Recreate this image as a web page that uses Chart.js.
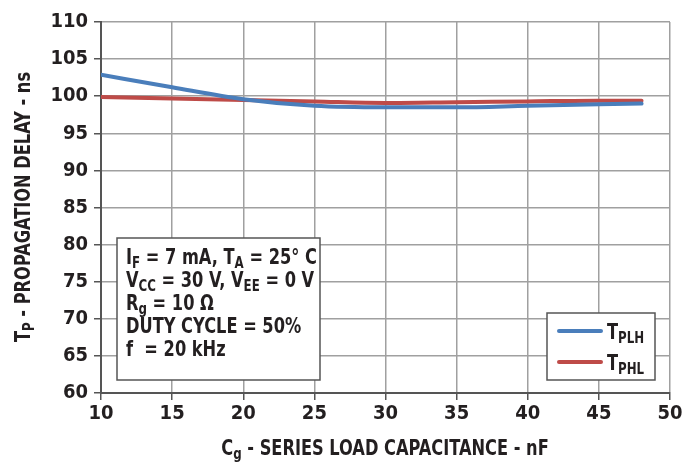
<!DOCTYPE html>
<html>
<head>
<meta charset="utf-8">
<script src="https://cdn.jsdelivr.net/npm/chart.js@4"></script>
<style>
  html, body { margin: 0; padding: 0; background: #fff; }
  #wrap { width: 695px; height: 467px; }
</style>
</head>
<body>
<div id="wrap"><canvas id="myChart" width="695" height="467"></canvas></div>
<script>
const capacitance = [10, 15, 20, 25, 30, 35, 40, 45, 48];
const tplh = [102.9, 101.2, 99.6, 98.7, 98.5, 98.5, 98.7, 98.9, 99.0];
const tphl = [99.9, 99.7, 99.5, 99.3, 99.1, 99.2, 99.3, 99.4, 99.4];
const xTicks = [10, 15, 20, 25, 30, 35, 40, 45, 50];
const yTicks = [60, 65, 70, 75, 80, 85, 90, 95, 100, 105, 110];

const FONT = "'Liberation Sans Narrow', 'DejaVu Sans Condensed', sans-serif";
const BLUE = '#4a7ebb';
const RED = '#be4b48';
const SQUEEZE = 0.82;

// draw text made of [text, sub] pieces, squeezed horizontally like a condensed face
function drawRich(ctx, parts, x, y, size) {
  ctx.save();
  ctx.translate(x, y);
  ctx.scale(SQUEEZE, 1);
  let cx = 0;
  for (let p of parts) {
    const isSub = p[1];
    const s = isSub ? Math.round(size * 0.72) : size;
    ctx.font = 'bold ' + s + 'px ' + FONT;
    ctx.fillText(p[0], cx, isSub ? size * 0.18 : 0);
    cx += ctx.measureText(p[0]).width;
  }
  ctx.restore();
  return cx * SQUEEZE;
}

function richWidth(ctx, parts, size) {
  let w = 0;
  for (let p of parts) {
    const s = p[1] ? Math.round(size * 0.72) : size;
    ctx.font = 'bold ' + s + 'px ' + FONT;
    w += ctx.measureText(p[0]).width;
  }
  return w * SQUEEZE;
}

const extrasPlugin = {
  id: 'extras',
  afterDraw(chart) {
    const ctx = chart.ctx;
    ctx.save();
    ctx.fillStyle = '#231f20';
    ctx.textBaseline = 'alphabetic';
    ctx.textAlign = 'left';

    // x axis title
    const xTitle = [['C', false], ['g', true], [' - SERIES LOAD CAPACITANCE - nF', false]];
    const xw = richWidth(ctx, xTitle, 22);
    drawRich(ctx, xTitle, 385 - xw / 2, 455, 22);

    // y axis title
    ctx.save();
    ctx.translate(30, 207);
    ctx.rotate(-Math.PI / 2);
    const yTitle = [['T', false], ['P', true], [' - PROPAGATION DELAY - ns', false]];
    const yw = richWidth(ctx, yTitle, 22);
    drawRich(ctx, yTitle, -yw / 2, 0, 22);
    ctx.restore();

    // conditions box
    ctx.fillStyle = '#fff';
    ctx.fillRect(117, 238, 203, 142);
    ctx.strokeStyle = '#555';
    ctx.lineWidth = 1.5;
    ctx.strokeRect(117, 238, 203, 142);
    ctx.fillStyle = '#231f20';
    const lines = [
      [['I', false], ['F', true], [' = 7 mA, T', false], ['A', true], [' = 25\u00b0 C', false]],
      [['V', false], ['CC', true], [' = 30 V, V', false], ['EE', true], [' = 0 V', false]],
      [['R', false], ['g', true], [' = 10 \u03a9', false]],
      [['DUTY CYCLE = 50%', false]],
      [['f  = 20 kHz', false]]
    ];
    let ly = 264;
    for (let line of lines) {
      drawRich(ctx, line, 126, ly, 22);
      ly += 23;
    }

    // legend box
    ctx.fillStyle = '#fff';
    ctx.fillRect(547, 313, 108, 67);
    ctx.strokeStyle = '#555';
    ctx.strokeRect(547, 313, 108, 67);
    const legend = [
      [BLUE, [['T', false], ['PLH', true]], 331],
      [RED, [['T', false], ['PHL', true]], 362]
    ];
    for (let item of legend) {
      ctx.strokeStyle = item[0];
      ctx.lineWidth = 4;
      ctx.lineCap = 'round';
      ctx.beginPath();
      ctx.moveTo(559, item[2]);
      ctx.lineTo(601, item[2]);
      ctx.stroke();
      ctx.fillStyle = '#231f20';
      drawRich(ctx, item[1], 607, item[2] + 8, 22);
    }
    ctx.restore();
  }
};

const ctx = document.getElementById('myChart').getContext('2d');
// eslint-disable-next-line no-unused-vars
const myChart = new Chart(ctx, {
  type: 'line',
  data: {
    datasets: [
      {
        label: 'TPLH',
        data: capacitance.map((c, i) => ({ x: c, y: tplh[i] })),
        borderColor: BLUE,
        borderWidth: 4,
        pointRadius: 0,
        cubicInterpolationMode: 'monotone',
        borderCapStyle: 'round'
      },
      {
        label: 'TPHL',
        data: capacitance.map((c, i) => ({ x: c, y: tphl[i] })),
        borderColor: RED,
        borderWidth: 4,
        pointRadius: 0,
        cubicInterpolationMode: 'monotone',
        borderCapStyle: 'round'
      }
    ]
  },
  options: {
    responsive: false,
    animation: false,
    layout: { padding: { left: 0, right: 25, top: 22, bottom: 0 } },
    plugins: {
      legend: { display: false },
      tooltip: { enabled: false }
    },
    scales: {
      x: {
        type: 'linear',
        min: 10,
        max: 50,
        afterBuildTicks: (axis) => { axis.ticks = xTicks.map(v => ({ value: v })); },
        afterFit: (axis) => { axis.height = 74; },
        grid: { color: '#a0a0a0', lineWidth: 1.5, tickLength: 7, tickColor: '#555' },
        border: { color: '#555', width: 2 },
        ticks: {
          color: '#231f20',
          padding: 2,
          font: { family: FONT, size: 20, weight: 'bold' }
        }
      },
      y: {
        min: 60,
        max: 110,
        afterBuildTicks: (axis) => { axis.ticks = yTicks.map(v => ({ value: v })); },
        afterFit: (axis) => { axis.width = 101; },
        grid: { color: '#a0a0a0', lineWidth: 1.5, tickLength: 7, tickColor: '#555' },
        border: { color: '#555', width: 2 },
        ticks: {
          color: '#231f20',
          padding: 6,
          font: { family: FONT, size: 20, weight: 'bold' }
        }
      }
    }
  },
  plugins: [extrasPlugin]
});
</script>
</body>
</html>
